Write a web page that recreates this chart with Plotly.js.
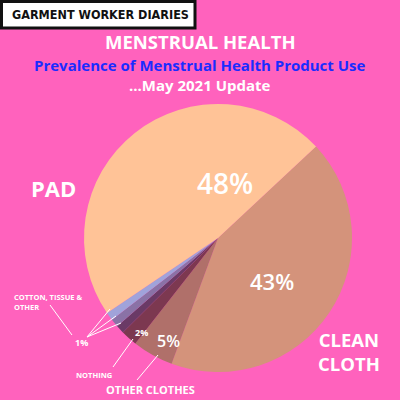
<!DOCTYPE html>
<html>
<head>
<meta charset="utf-8">
<script src="https://cdn.plot.ly/plotly-3.0.1.min.js"></script>
<style>
html,body{margin:0;padding:0;background:#ff62bd;}
#chart{width:400px;height:400px;}
</style>
</head>
<body>
<div id="chart"></div>
<script>
// Data
const categories = ["CLEAN CLOTH", "OTHER CLOTHES", "NOTHING", "OTHER", "TISSUE", "COTTON", "PAD"];
const shares = [43, 5, 2, 1, 1, 1, 48];
const sliceColors = ["#d4937b", "#b0706a", "#7c3850", "#6a3a66", "#8a72a6", "#a0a3da", "#ffc397"];

const pink = "#ff62bd";
const F = "Open Sans, Liberation Sans, sans-serif";

const trace = {
  type: "pie",
  labels: categories,
  values: shares,
  sort: false,
  direction: "clockwise",
  rotation: 47,
  marker: {colors: sliceColors, line: {width: 0}},
  textinfo: "none",
  hoverinfo: "skip",
  showlegend: false,
  domain: {x: [0.21, 0.88], y: [0.07, 0.74]}
};

function ann(text, x, y, size, opts) {
  return Object.assign({
    text: text, x: x / 400, y: 1 - y / 400, xref: "paper", yref: "paper",
    showarrow: false, xanchor: "center", yanchor: "middle",
    font: {family: F, size: size, color: "#ffffff", weight: 700}
  }, opts || {});
}

const pct = v => v + "%";

const annotations = [
  ann("GARMENT WORKER DIARIES", 100, 14, 12.5, {font: {family: "DejaVu Sans Condensed, DejaVu Sans, sans-serif", size: 12.5, color: "#111111", weight: 700}}),
  ann("MENSTRUAL HEALTH", 200, 42, 18.5),
  ann("Prevalence of Menstrual Health Product Use", 200, 65, 15, {font: {family: F, size: 15, color: "#1a2cff", weight: 700}}),
  ann("...May 2021 Update", 200, 85, 15),
  ann("PAD", 53, 188, 22),
  ann(pct(shares[6]), 225, 183, 28, {font: {family: F, size: 28, color: "#ffffff", weight: 600}}),
  ann(pct(shares[0]), 272, 281, 22, {font: {family: F, size: 22, color: "#ffffff", weight: 600}}),
  ann("CLEAN<br>CLOTH", 349, 351, 18.5),
  ann(pct(shares[1]), 168, 341, 16, {font: {family: F, size: 16, color: "#ffffff", weight: 600}}),
  ann(pct(shares[2]), 141, 332, 9),
  ann(pct(shares[3]), 81, 342, 9),
  ann("COTTON, TISSUE &<br>OTHER", 12, 302, 7.5, {xanchor: "left", align: "left"}),
  ann("NOTHING", 94, 375, 7.5),
  ann("OTHER CLOTHES", 150, 389, 11)
];

const line = (x0, y0, x1, y1) => ({type: "line", xref: "paper", yref: "paper",
  x0: x0 / 400, y0: 1 - y0 / 400, x1: x1 / 400, y1: 1 - y1 / 400,
  line: {color: "#ffffff", width: 1}});

const shapes = [
  {type: "rect", xref: "paper", yref: "paper", x0: 1.5/400, x1: 195/400, y0: 1 - 28/400, y1: 1 - 1.5/400,
   fillcolor: "#ffffff", line: {color: "#111111", width: 3}, layer: "below"},
  line(50, 305, 72, 335),
  line(87, 337, 110, 309),
  line(87, 337, 116, 316),
  line(87, 337, 121, 323),
  line(113, 367, 133, 339),
  line(137, 380, 158, 355)
];

const layout = {
  width: 400, height: 400,
  margin: {l: 0, r: 0, t: 0, b: 0},
  paper_bgcolor: pink,
  plot_bgcolor: pink,
  annotations: annotations,
  shapes: shapes,
  showlegend: false
};

Plotly.newPlot("chart", [trace], layout, {staticPlot: true, displayModeBar: false});
</script>
</body>
</html>
